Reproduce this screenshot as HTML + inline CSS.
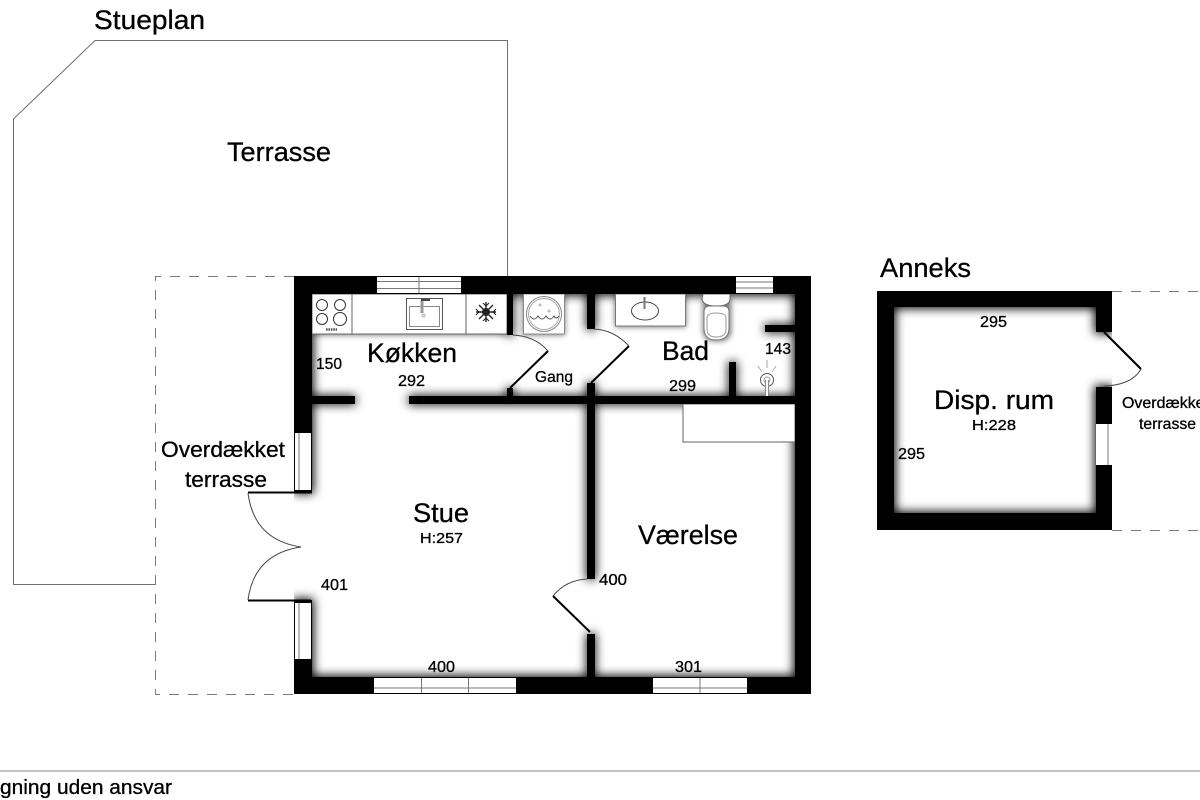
<!DOCTYPE html>
<html><head><meta charset="utf-8"><style>
html,body{margin:0;padding:0;background:#fff;width:1200px;height:800px;overflow:hidden}
svg{display:block}
text{font-family:"Liberation Sans",sans-serif;fill:#000;stroke:#000;stroke-width:.3}
</style></head><body>
<svg width="1200" height="800" viewBox="0 0 1200 800" xmlns="http://www.w3.org/2000/svg">
<defs>
<filter id="b" x="-10%" y="-10%" width="120%" height="120%"><feGaussianBlur stdDeviation="5"/></filter>
<filter id="s" x="-20%" y="-20%" width="140%" height="140%"><feGaussianBlur stdDeviation="3"/></filter>
<filter id="soft" x="0" y="0" width="100%" height="100%"><feGaussianBlur stdDeviation="0.35"/></filter>
<clipPath id="c"><rect x="294" y="276" width="517" height="418"/><rect x="877" y="291" width="235" height="239"/></clipPath>
<g id="o1">
<path d="M294 276H811V694H294V600H312V677H795V294H312V492H294Z"/>
<path d="M877 291H1112V332H1096V307H894V513H1096V387H1112V530H877Z"/>
</g>
<g id="i1">
<rect x="312" y="396" width="43" height="8"/>
<rect x="409" y="396" width="386" height="8"/>
<rect x="587" y="294" width="8" height="35"/>
<rect x="587" y="383" width="8" height="196"/>
<rect x="587" y="634" width="8" height="43"/>
<rect x="507" y="294" width="6" height="41"/>
<rect x="507" y="388" width="6" height="8"/>
<rect x="729" y="362" width="7" height="34"/>
<rect x="765" y="325" width="30" height="7"/>
</g>
</defs>
<g filter="url(#soft)">
<rect width="1200" height="800" fill="#fff"/>

<!-- terrace outline -->
<g fill="none" stroke="#6f6f6f" stroke-width="1">
<path d="M155 584.5H13.5V119L95 40.5H507.5V276"/>
</g>
<g fill="none" stroke="#7a7a7a" stroke-width="1" stroke-dasharray="10 9">
<path d="M294 276.5H155.5V694.5H294"/>
<path d="M1112 291.5H1200"/>
<path d="M1112 530.5H1200"/>
</g>

<!-- wall shadow -->
<g clip-path="url(#c)" filter="url(#b)">
<use href="#o1" fill="#000" stroke="#000" stroke-width="3"/>
<use href="#i1" fill="#000" stroke="#000" stroke-width="1"/>
</g>

<!-- fixtures with shadow -->
<g filter="url(#s)" fill="#000" opacity=".55">
<rect x="312" y="294" width="195" height="41"/>
<rect x="523" y="294" width="42" height="41"/>
<rect x="615" y="294" width="71" height="33"/>
<rect x="703" y="294" width="28" height="47" rx="10"/>
</g>
<!-- white kitchen counter etc -->
<rect x="312" y="294" width="195" height="40" fill="#fff" stroke="#666"/>
<path d="M352 294V334M466 294V334" stroke="#666"/>
<g fill="none" stroke="#333" stroke-width="1">
<circle cx="322" cy="305" r="5.5"/><circle cx="340" cy="305" r="5.5"/>
<circle cx="322" cy="319" r="5.5"/><circle cx="340" cy="319" r="6.5"/>
</g>
<path d="M326 329.5H337" stroke="#555" stroke-width="2.5" stroke-dasharray="1.6 .8"/>
<rect x="406.500" y="298.500" width="36" height="31" fill="#fff" stroke="#555"/>
<rect x="409.500" y="306.500" width="30" height="20" fill="#fff" stroke="#888"/>
<path d="M422 300V313" stroke="#999" stroke-width="3"/><path d="M421 300H430" stroke="#444" stroke-width="2"/>
<rect x="422" y="314" width="3" height="3" fill="#ddd" stroke="#999" stroke-width=".5"/>
<g stroke="#222" stroke-width="1.4">
<path d="M476 312H496M486 302V322M479 305L493 319M493 305L479 319"/>
<path d="M476 309L479 312L476 315M496 309L493 312L496 315M483 303L486 306L489 303M483 321L486 318L489 321" fill="none" stroke-width="1"/>
</g>
<circle cx="486" cy="312" r="4" fill="#222"/>
<rect x="523.500" y="294" width="41" height="40" fill="#fff" stroke="#888"/>
<circle cx="544" cy="314" r="17.500" fill="#fff" stroke="#888" stroke-width="1"/>
<circle cx="544" cy="314" r="15.500" fill="none" stroke="#aaa" stroke-width="1"/>
<path d="M530 316Q534 322 538 316Q542 322 546 316Q550 322 554 316Q556 320 559 316" fill="none" stroke="#555"/>
<circle cx="540" cy="305" r="1.500" fill="#bbb"/><circle cx="549" cy="311" r="1.500" fill="#bbb"/>
<rect x="615.500" y="294" width="70" height="32" fill="#fff" stroke="#777"/>
<ellipse cx="645" cy="311" rx="13.500" ry="9" fill="#fff" stroke="#444"/>
<path d="M644.500 297V309" stroke="#777" stroke-width="2"/>
<!-- toilet -->
<path d="M703 294H730V299Q730 306 716 306Q703 306 702 299Z" fill="#fff" stroke="#666"/>
<path d="M704 312Q704 306 710 306H723Q729 306 729 312V328Q729 340 716 340Q704 340 704 328Z" fill="#fff" stroke="#777"/>
<path d="M707 318Q707 313 716 313Q726 313 726 318V329Q726 337 716 337Q707 337 707 329Z" fill="#fff" stroke="#999"/>
<!-- shower -->
<circle cx="767" cy="380" r="6.500" fill="#fff" stroke="#555"/>
<circle cx="767" cy="380" r="3" fill="#fff" stroke="#999"/>
<path d="M767 380V396" stroke="#888" stroke-width="4"/><path d="M767 380V396" stroke="#fff" stroke-width="2"/>
<path d="M767 360V368M758 366L762 372M776 366L772 372" stroke="#aaa"/>

<!-- shaded box Værelse -->
<rect x="683" y="404" width="112" height="38" fill="#fff" stroke="#666"/>

<!-- crisp walls -->
<use href="#o1" fill="#000"/>
<use href="#i1" fill="#000"/>

<!-- windows -->
<g fill="#fff" stroke="#777" stroke-width="1">
<rect x="377" y="277" width="84" height="16" stroke="none"/><path d="M377 281.500H461M377 288.500H461M419 277V293" fill="none"/>
<rect x="736" y="277" width="37" height="16" stroke="none"/><path d="M736 282H773M736 288H773" fill="none"/>
<rect x="374" y="678" width="142" height="15" stroke="none"/><path d="M374 688H516M421.500 678V693M468.500 678V693" fill="none"/>
<rect x="653" y="678" width="94" height="15" stroke="none"/><path d="M653 688H747M700 678V693" fill="none"/>
<rect x="295" y="433" width="16" height="57" stroke="none"/><path d="M299 433V490" fill="none"/>
<rect x="295" y="603" width="16" height="56" stroke="none"/><path d="M299 603V659" fill="none"/>
<rect x="1096" y="424" width="16" height="41" stroke="none"/><path d="M1108 424V465" fill="none"/>
</g>

<!-- doors -->
<g fill="none" stroke="#000" stroke-width="2">
<path d="M248 492.500H312"/><path d="M248 600.500H311"/>
<path d="M510 388L548 351"/><path d="M591 383L629 346"/><path d="M590 632L553 596"/><path d="M1104 332L1141 369"/>
</g>
<g fill="none" stroke="#444" stroke-width="1">
<path d="M248 493Q254 540 301 547"/><path d="M248 600Q254 554 301 547"/>
<path d="M513 335Q535 336 548 351"/><path d="M594 329Q614 330 629 346"/>
<path d="M587 579Q566 580 553 596"/><path d="M1104 386Q1132 385 1141 369"/>
</g>

<!-- footer -->
<path d="M0 771H1200" stroke="#888" stroke-width="1"/>
<text x="172" y="794" font-size="20" text-anchor="end" textLength="172" lengthAdjust="spacingAndGlyphs">gning uden ansvar</text>

<!-- labels -->
<text x="94" y="29" font-size="27" textLength="111" lengthAdjust="spacingAndGlyphs">Stueplan</text>
<text x="227" y="161" font-size="27" textLength="104" lengthAdjust="spacingAndGlyphs">Terrasse</text>
<text x="880" y="277" font-size="27" textLength="91" lengthAdjust="spacingAndGlyphs">Anneks</text>
<text x="367" y="362" font-size="27" textLength="90" lengthAdjust="spacingAndGlyphs">Køkken</text>
<text x="662" y="360" font-size="27" textLength="47" lengthAdjust="spacingAndGlyphs">Bad</text>
<text x="413" y="522" font-size="27" textLength="56" lengthAdjust="spacingAndGlyphs">Stue</text>
<text x="638" y="544" font-size="27" textLength="100" lengthAdjust="spacingAndGlyphs">Værelse</text>
<text x="934" y="409" font-size="27" textLength="120" lengthAdjust="spacingAndGlyphs">Disp. rum</text>
<text x="420" y="543" font-size="15" textLength="43" lengthAdjust="spacingAndGlyphs">H:257</text>
<text x="972" y="430" font-size="15" textLength="44" lengthAdjust="spacingAndGlyphs">H:228</text>
<text x="161" y="457" font-size="22" textLength="124" lengthAdjust="spacingAndGlyphs">Overdækket</text>
<text x="185" y="487" font-size="22" textLength="82" lengthAdjust="spacingAndGlyphs">terrasse</text>
<text x="1122" y="408" font-size="16" textLength="87" lengthAdjust="spacingAndGlyphs">Overdækket</text>
<text x="1139" y="429" font-size="16" textLength="57" lengthAdjust="spacingAndGlyphs">terrasse</text>
<g font-size="16">
<text x="316" y="369" textLength="26" lengthAdjust="spacingAndGlyphs">150</text>
<text x="398" y="386" textLength="27" lengthAdjust="spacingAndGlyphs">292</text>
<text x="535" y="382" textLength="38" lengthAdjust="spacingAndGlyphs">Gang</text>
<text x="765" y="354" textLength="26" lengthAdjust="spacingAndGlyphs">143</text>
<text x="669" y="391" textLength="27" lengthAdjust="spacingAndGlyphs">299</text>
<text x="321" y="590" textLength="27" lengthAdjust="spacingAndGlyphs">401</text>
<text x="599" y="585" textLength="28" lengthAdjust="spacingAndGlyphs">400</text>
<text x="428" y="672" textLength="27" lengthAdjust="spacingAndGlyphs">400</text>
<text x="675" y="672" textLength="27" lengthAdjust="spacingAndGlyphs">301</text>
<text x="980" y="327" textLength="27" lengthAdjust="spacingAndGlyphs">295</text>
<text x="898" y="459" textLength="27" lengthAdjust="spacingAndGlyphs">295</text>
</g>
</g>
</svg>
</body></html>
